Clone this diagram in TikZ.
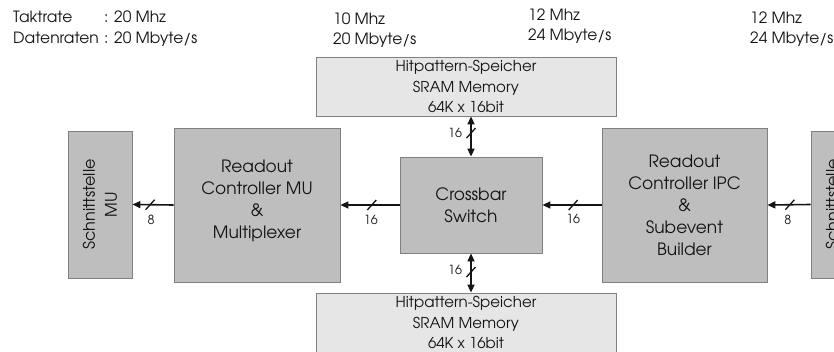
\documentclass[tikz,border=0pt]{standalone}
\usepackage{fontspec}
\setmainfont{TeX Gyre Adventor}
\usetikzlibrary{arrows.meta}
\definecolor{boxdark}{RGB}{190,190,190}
\definecolor{boxlight}{RGB}{230,230,230}
\definecolor{boxline}{RGB}{128,128,128}
\definecolor{ink}{RGB}{20,20,20}
\tikzset{
  blk/.style={draw=boxline, line width=0.8pt, fill=boxdark, inner sep=0pt, align=center,
    font=\fontsize{17}{22}\selectfont, text=ink},
  blktxt/.style={inner sep=0pt, align=center, font=\fontsize{17}{22}\selectfont, text=ink},
  memblk/.style={draw=boxline, line width=0.8pt, fill=boxlight, inner sep=0pt, align=center,
    font=\fontsize{15}{20.5}\selectfont, text=ink, minimum width=300, minimum height=59},
  bus/.style={line width=1.6pt, ink, -{Triangle[length=8pt,width=7pt]}},
  bibus/.style={line width=1.6pt, ink, {Triangle[length=8pt,width=7pt]}-{Triangle[length=8pt,width=7pt]}},
  slash/.style={line width=1.3pt, ink},
  lbl/.style={font=\fontsize{12.5}{13}\selectfont, text=ink, inner sep=0pt},
  toptxt/.style={font=\fontsize{15.5}{16}\selectfont, text=ink, inner sep=0pt, anchor=base west},
  rottxt/.style={rotate=90, align=center, font=\fontsize{16}{22}\selectfont, text=ink},
}
\begin{document}
\begin{tikzpicture}[x=1pt,y=-1pt]
\useasboundingbox (0,0) rectangle (834,351);
% legend / rates
\node[toptxt] (t1) at (13,22.5) {Taktrate};
\node[toptxt] (t2) at (104,22.5) {: 20 Mhz};
\node[toptxt] (t3) at (13,43) {Datenraten};
\node[toptxt] (t4) at (104,43) {: 20 Mbyte/s};
\node[toptxt] (r1) at (333,24) {10 Mhz};
\node[toptxt] (r2) at (333,44) {20 Mbyte/s};
\node[toptxt] (r3) at (528,20.5) {12 Mhz};
\node[toptxt] (r4) at (528,40.5) {24 Mbyte/s};
\node[toptxt] (r5) at (750,23.5) {12 Mhz};
\node[toptxt] (r6) at (750,43.5) {24 Mbyte/s};
% blocks
\node[blk, minimum width=64, minimum height=147] (schL) at (100,204.5) {};
\node[rottxt] (schLt) at (schL.center) {Schnittstelle\\MU};
\node[blk, minimum width=166, minimum height=154] (mu) at (257,205) {};
\node[blktxt] (mut) at ([yshift=4pt]mu.center) {Readout\\Controller MU\\\&\\Multiplexer};
\node[blk, minimum width=142, minimum height=96] (cross) at (471,205) {Crossbar\\Switch};
\node[blk, minimum width=165, minimum height=154] (ipc) at (684.5,205) {Readout\\Controller IPC\\\&\\Subevent\\Builder};
\node[blk, minimum width=64, minimum height=147] (schR) at (843,204.5) {};
\node[rottxt] (schRt) at (schR.center) {Schnittstelle\\IPC};
\node[memblk] (memT) at (466,86.5) {Hitpattern-Speicher\\SRAM Memory\\64K x 16bit};
\node[memblk] (memB) at (466,322.5) {Hitpattern-Speicher\\SRAM Memory\\64K x 16bit};
% horizontal buses
\draw[bus] (mu.west) -- coordinate[pos=0.57] (s1) (schL.east);
\draw[bus] (cross.west) -- coordinate[pos=0.47] (s2) (mu.east);
\draw[bus] (ipc.west) -- coordinate[pos=0.48] (s3) (cross.east);
\draw[bus] (schR.west) -- coordinate[pos=0.48] (s4) (ipc.east);
% vertical buses
\draw[bibus] (cross.north) -- coordinate[pos=0.585] (s5) (cross.north |- memT.south);
\draw[bibus] (cross.south) -- coordinate[pos=0.475] (s6) (cross.south |- memB.north);
% slashes
\foreach \s in {s1,s2,s3,s4,s5,s6}
  \draw[slash] ([shift={(-4.5,5)}]\s) -- ([shift={(4.5,-5)}]\s);
% labels
\node[lbl] (l1) at ([shift={(1,15)}]s1) {8};
\node[lbl] (l2) at ([shift={(-1,15)}]s2) {16};
\node[lbl] (l3) at ([shift={(0,14)}]s3) {16};
\node[lbl] (l4) at ([shift={(-2,15)}]s4) {8};
\node[lbl] (l5) at ([shift={(-16,0)}]s5) {16};
\node[lbl] (l6) at ([shift={(-16,-2)}]s6) {16};
\end{tikzpicture}
\end{document}
